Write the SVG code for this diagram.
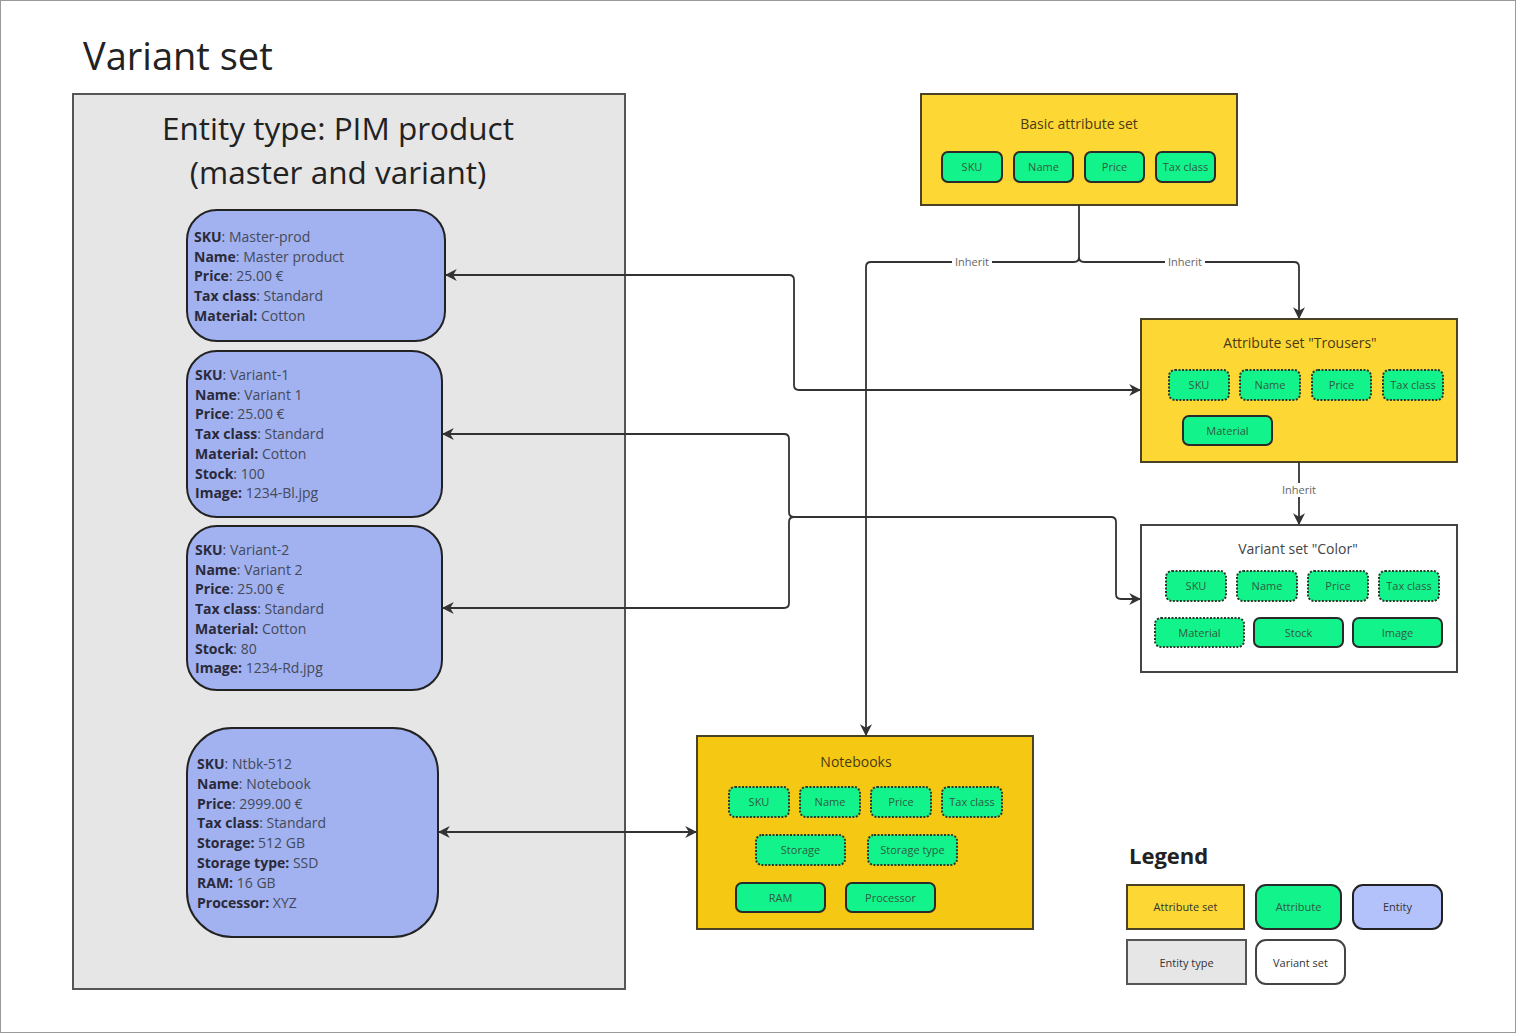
<svg xmlns="http://www.w3.org/2000/svg" width="1516" height="1033" viewBox="0 0 1516 1033">
<defs>
<marker id="ah" viewBox="0 0 10 10" refX="9" refY="5" markerWidth="12" markerHeight="12" markerUnits="userSpaceOnUse" orient="auto-start-reverse">
<path d="M0,0 L10,5 L0,10 L3,5 Z" fill="#333"/>
</marker>
<style>
text{font-family:"Open Sans","Noto Sans","DejaVu Sans",sans-serif}
.set{fill:#fdd835;stroke:#4a4226;stroke-width:2}
.nb{fill:#f5c913;stroke:#4a4226;stroke-width:2}
.vs{fill:#ffffff;stroke:#444;stroke-width:2}
.et{fill:#e6e6e6;stroke:#555;stroke-width:2}
.ent{fill:#a2b1ef;stroke:#222;stroke-width:2}
.attr{fill:#12f48b;stroke:#2a2a2a;stroke-width:2}
.inh{fill:#12f48b;stroke:#2a3a2a;stroke-width:2;stroke-dasharray:2 1.5}
.at{font-size:11px;fill:#2f5a40;text-anchor:middle}
.st{font-size:14px;fill:#4a3a14;text-anchor:middle}
.et1{font-size:14px;fill:#444a5a}
.et1 tspan.b{font-weight:bold;fill:#2a2a3a}
.lt{font-size:11px;fill:#333;text-anchor:middle}
.conn{fill:none;stroke:#333;stroke-width:1.8}
.lbl{font-size:11px;fill:#666;text-anchor:middle}
</style>
</defs>
<rect x="0.5" y="0.5" width="1515" height="1032" fill="#ffffff" stroke="#999" stroke-width="1"/>
<text x="83" y="70" font-size="38" fill="#222">Variant set</text>

<g id="entity-type">
<rect class="et" x="73" y="94" width="552" height="895"/>
<text x="338" y="140" font-size="31.5" fill="#222" text-anchor="middle">Entity type: PIM product</text>
<text x="338" y="184" font-size="31.5" fill="#222" text-anchor="middle">(master and variant)</text>
</g>

<g id="entity-master">
<rect class="ent" x="187" y="210" width="258" height="131" rx="30"/>
<text class="et1" x="194" y="242"><tspan class="b">SKU</tspan>: Master-prod</text>
<text class="et1" x="194" y="261.7"><tspan class="b">Name</tspan>: Master product</text>
<text class="et1" x="194" y="281.4"><tspan class="b">Price</tspan>: 25.00 €</text>
<text class="et1" x="194" y="301.1"><tspan class="b">Tax class</tspan>: Standard</text>
<text class="et1" x="194" y="320.8"><tspan class="b">Material:</tspan> Cotton</text>
</g>

<g id="entity-variant1">
<rect class="ent" x="187" y="351" width="255" height="166" rx="30"/>
<text class="et1" x="195" y="380"><tspan class="b">SKU</tspan>: Variant-1</text>
<text class="et1" x="195" y="399.7"><tspan class="b">Name</tspan>: Variant 1</text>
<text class="et1" x="195" y="419.4"><tspan class="b">Price</tspan>: 25.00 €</text>
<text class="et1" x="195" y="439.1"><tspan class="b">Tax class</tspan>: Standard</text>
<text class="et1" x="195" y="458.8"><tspan class="b">Material:</tspan> Cotton</text>
<text class="et1" x="195" y="478.5"><tspan class="b">Stock</tspan>: 100</text>
<text class="et1" x="195" y="498.2"><tspan class="b">Image:</tspan> 1234-Bl.jpg</text>
</g>

<g id="entity-variant2">
<rect class="ent" x="187" y="526" width="255" height="164" rx="30"/>
<text class="et1" x="195" y="555"><tspan class="b">SKU</tspan>: Variant-2</text>
<text class="et1" x="195" y="574.7"><tspan class="b">Name</tspan>: Variant 2</text>
<text class="et1" x="195" y="594.4"><tspan class="b">Price</tspan>: 25.00 €</text>
<text class="et1" x="195" y="614.1"><tspan class="b">Tax class</tspan>: Standard</text>
<text class="et1" x="195" y="633.8"><tspan class="b">Material:</tspan> Cotton</text>
<text class="et1" x="195" y="653.5"><tspan class="b">Stock</tspan>: 80</text>
<text class="et1" x="195" y="673.2"><tspan class="b">Image:</tspan> 1234-Rd.jpg</text>
</g>

<g id="entity-notebook">
<rect class="ent" x="187" y="728" width="251" height="209" rx="45"/>
<text class="et1" x="197" y="769"><tspan class="b">SKU</tspan>: Ntbk-512</text>
<text class="et1" x="197" y="788.8"><tspan class="b">Name</tspan>: Notebook</text>
<text class="et1" x="197" y="808.6"><tspan class="b">Price</tspan>: 2999.00 €</text>
<text class="et1" x="197" y="828.4"><tspan class="b">Tax class</tspan>: Standard</text>
<text class="et1" x="197" y="848.2"><tspan class="b">Storage:</tspan> 512 GB</text>
<text class="et1" x="197" y="868"><tspan class="b">Storage type:</tspan> SSD</text>
<text class="et1" x="197" y="887.8"><tspan class="b">RAM:</tspan> 16 GB</text>
<text class="et1" x="197" y="907.6"><tspan class="b">Processor:</tspan> XYZ</text>
</g>

<g id="basic-attribute-set">
<rect class="set" x="921" y="94" width="316" height="111"/>
<text class="st" x="1079" y="129">Basic attribute set</text>
<rect class="attr" x="942" y="152" width="60" height="30" rx="6"/><text class="at" x="972" y="171">SKU</text>
<rect class="attr" x="1014" y="152" width="59" height="30" rx="6"/><text class="at" x="1043.5" y="171">Name</text>
<rect class="attr" x="1085" y="152" width="59" height="30" rx="6"/><text class="at" x="1114.5" y="171">Price</text>
<rect class="attr" x="1156" y="152" width="59" height="30" rx="6"/><text class="at" x="1185.5" y="171">Tax class</text>
</g>

<g id="attribute-set-trousers">
<rect class="set" x="1141" y="319" width="316" height="143"/>
<text class="st" x="1300" y="348">Attribute set "Trousers"</text>
<rect class="inh" x="1169" y="370" width="60" height="30" rx="6"/><text class="at" x="1199" y="389">SKU</text>
<rect class="inh" x="1240" y="370" width="60" height="30" rx="6"/><text class="at" x="1270" y="389">Name</text>
<rect class="inh" x="1312" y="370" width="59" height="30" rx="6"/><text class="at" x="1341.5" y="389">Price</text>
<rect class="inh" x="1383" y="370" width="60" height="30" rx="6"/><text class="at" x="1413" y="389">Tax class</text>
<rect class="attr" x="1183" y="416" width="89" height="29" rx="6"/><text class="at" x="1227.5" y="435">Material</text>
</g>

<g id="variant-set-color">
<rect class="vs" x="1141" y="525" width="316" height="147"/>
<text class="st" x="1298" y="554" style="fill:#444">Variant set "Color"</text>
<rect class="inh" x="1166" y="571" width="60" height="30" rx="6"/><text class="at" x="1196" y="590">SKU</text>
<rect class="inh" x="1237" y="571" width="60" height="30" rx="6"/><text class="at" x="1267" y="590">Name</text>
<rect class="inh" x="1308" y="571" width="60" height="30" rx="6"/><text class="at" x="1338" y="590">Price</text>
<rect class="inh" x="1379" y="571" width="60" height="30" rx="6"/><text class="at" x="1409" y="590">Tax class</text>
<rect class="inh" x="1155" y="618" width="89" height="29" rx="6"/><text class="at" x="1199.5" y="637">Material</text>
<rect class="attr" x="1254" y="618" width="89" height="29" rx="6"/><text class="at" x="1298.5" y="637">Stock</text>
<rect class="attr" x="1353" y="618" width="89" height="29" rx="6"/><text class="at" x="1397.5" y="637">Image</text>
</g>

<g id="notebooks">
<rect class="nb" x="697" y="736" width="336" height="193"/>
<text class="st" x="856" y="767">Notebooks</text>
<rect class="inh" x="729" y="787" width="60" height="30" rx="6"/><text class="at" x="759" y="806">SKU</text>
<rect class="inh" x="800" y="787" width="60" height="30" rx="6"/><text class="at" x="830" y="806">Name</text>
<rect class="inh" x="871" y="787" width="60" height="30" rx="6"/><text class="at" x="901" y="806">Price</text>
<rect class="inh" x="942" y="787" width="60" height="30" rx="6"/><text class="at" x="972" y="806">Tax class</text>
<rect class="inh" x="756" y="835" width="89" height="30" rx="6"/><text class="at" x="800.5" y="854">Storage</text>
<rect class="inh" x="868" y="835" width="89" height="30" rx="6"/><text class="at" x="912.5" y="854">Storage type</text>
<rect class="attr" x="736" y="883" width="89" height="29" rx="6"/><text class="at" x="780.5" y="902">RAM</text>
<rect class="attr" x="846" y="883" width="89" height="29" rx="6"/><text class="at" x="890.5" y="902">Processor</text>
</g>

<g id="connectors">
<path class="conn" d="M446,275 H789 Q794,275 794,280 V385 Q794,390 799,390 H1140" marker-start="url(#ah)" marker-end="url(#ah)"/>
<path class="conn" d="M443,434 H784 Q789,434 789,439 V512 Q789,517 794,517" marker-start="url(#ah)"/>
<path class="conn" d="M443,608 H784 Q789,608 789,603 V522 Q789,517 794,517"  marker-start="url(#ah)"/>
<path class="conn" d="M794,517 H1111 Q1116,517 1116,522 V594 Q1116,599 1121,599 H1140" marker-end="url(#ah)"/>
<path class="conn" d="M1079,205 V257 Q1079,262 1074,262 H871 Q866,262 866,267 V735" marker-end="url(#ah)"/>
<path class="conn" d="M1079,257 Q1079,262 1084,262 H1294 Q1299,262 1299,267 V318" marker-end="url(#ah)"/>
<path class="conn" d="M1299,462 V524" marker-end="url(#ah)"/>
<path class="conn" d="M439,832 H696" marker-start="url(#ah)" marker-end="url(#ah)"/>
<rect x="952" y="255" width="40" height="14" fill="#fff"/>
<text class="lbl" x="972" y="266">Inherit</text>
<rect x="1165" y="255" width="40" height="14" fill="#fff"/>
<text class="lbl" x="1185" y="266">Inherit</text>
<rect x="1279" y="483" width="40" height="14" fill="#fff"/>
<text class="lbl" x="1299" y="494">Inherit</text>
</g>

<g id="legend">
<text x="1129" y="864" font-size="22" font-weight="bold" fill="#222">Legend</text>
<rect class="set" x="1127" y="885" width="117" height="44"/>
<text class="lt" x="1185.5" y="911">Attribute set</text>
<rect class="attr" x="1256" y="885" width="85" height="44" rx="10"/>
<text class="lt" x="1298.5" y="911" style="fill:#2f5a40">Attribute</text>
<rect x="1353" y="885" width="89" height="44" rx="10" fill="#b4c2fb" stroke="#222" stroke-width="2"/>
<text class="lt" x="1397.5" y="911">Entity</text>
<rect class="et" x="1127" y="940" width="119" height="44"/>
<text class="lt" x="1186.5" y="967">Entity type</text>
<rect class="vs" x="1256" y="940" width="89" height="44" rx="10"/>
<text class="lt" x="1300.5" y="967">Variant set</text>
</g>
</svg>
